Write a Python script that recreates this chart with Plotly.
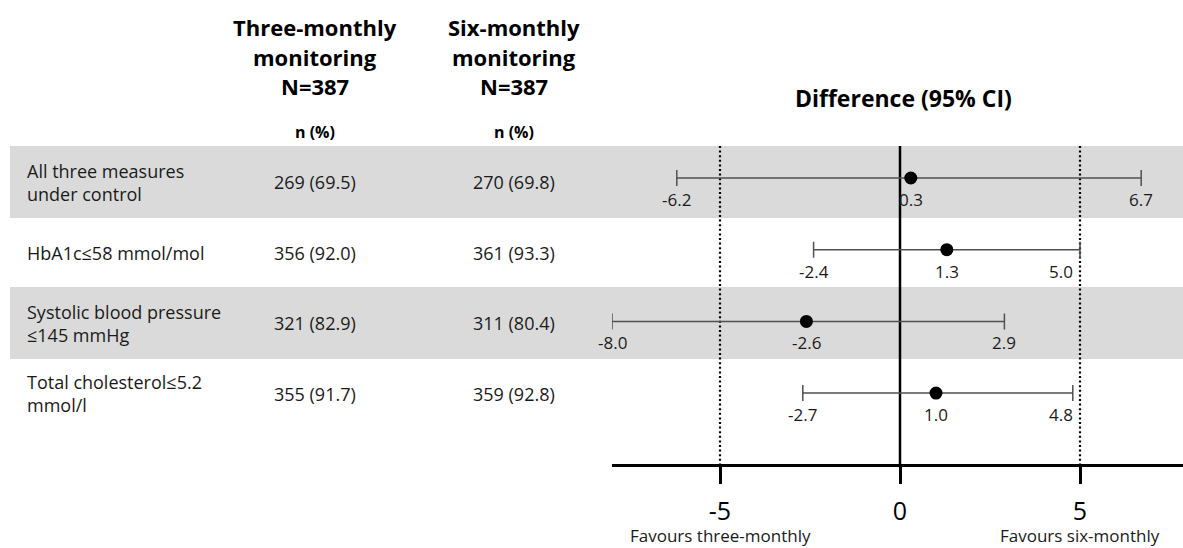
import plotly.graph_objects as go

# ---- data ----
outcomes = [
    "All three measures<br>under control",
    "HbA1c≤58 mmol/mol",
    "Systolic blood pressure<br>≤145 mmHg",
    "Total cholesterol≤5.2<br>mmol/l",
]
three_monthly = ["269 (69.5)", "356 (92.0)", "321 (82.9)", "355 (91.7)"]
six_monthly = ["270 (69.8)", "361 (93.3)", "311 (80.4)", "359 (92.8)"]
diff_est = [0.3, 1.3, -2.6, 1.0]
diff_low = [-6.2, -2.4, -8.0, -2.7]
diff_high = [6.7, 5.0, 2.9, 4.8]
tick_vals = [-5, 0, 5]
margin_lim = 5  # non-inferiority margins drawn at +/- this value

# ---- layout constants (pixels) ----
W, H = 1183, 548
FONT = "Open Sans"
TABLE_Y0, TABLE_DY = 182, 70.5      # table row centres
PLOT_Y0, PLOT_DY = 178, 71.7        # forest row centres
AXIS_Y = 465
PLOT_TOP = 146
X_LEFT_PX = 612                     # left end of the difference axis
X_MIN = -8.0
PX_PER_UNIT = 36.0
X_MAX = X_MIN + (W - X_LEFT_PX) / PX_PER_UNIT
COL1_X, COL2_X = 315, 514
LABEL_X = 25

table_y = [TABLE_Y0 + i * TABLE_DY for i in range(len(outcomes))]
plot_y = [PLOT_Y0 + i * PLOT_DY for i in range(len(outcomes))]

fig = go.Figure()

fig.add_trace(go.Scatter(
    x=diff_est,
    y=plot_y,
    mode="markers",
    marker=dict(color="black", size=13),
    error_x=dict(
        type="data",
        symmetric=False,
        array=[h - e for h, e in zip(diff_high, diff_est)],
        arrayminus=[e - l for e, l in zip(diff_est, diff_low)],
        color="#505050",
        thickness=1.5,
        width=8,
    ),
    hoverinfo="skip",
    showlegend=False,
))

shapes = []
# shaded bands on alternate rows
for i, yc in enumerate(table_y):
    if i % 2 == 0:
        shapes.append(dict(type="rect", xref="paper", yref="y",
                           x0=10 / W, x1=1, y0=yc - 36, y1=yc + 36,
                           fillcolor="#dadada", line=dict(width=0), layer="below"))
# line of no difference
shapes.append(dict(type="line", xref="x", yref="y", x0=0, x1=0,
                   y0=PLOT_TOP, y1=AXIS_Y, line=dict(color="black", width=2.5),
                   layer="below"))
# margins
for m in (-margin_lim, margin_lim):
    shapes.append(dict(type="line", xref="x", yref="y", x0=m, x1=m,
                       y0=PLOT_TOP, y1=AXIS_Y,
                       line=dict(color="black", width=2.2, dash="2px,2.6px"),
                       layer="below"))

annotations = []


def txt(x, y, s, size, bold=False, xref="paper", xanchor="center", color="#1a1a1a",
        xshift=0, align="center"):
    if bold:
        s = "<b>" + s + "</b>"
    annotations.append(dict(
        x=x / W if xref == "paper" else x, y=y, xref=xref, yref="y", text=s,
        showarrow=False, xanchor=xanchor, yanchor="middle", align=align,
        xshift=xshift, font=dict(family=FONT, size=size, color=color)))


# column headers
for cx, lines in ((COL1_X, ["Three-monthly", "monitoring", "N=387"]),
                  (COL2_X, ["Six-monthly", "monitoring", "N=387"])):
    for j, line in enumerate(lines):
        txt(cx, 27 + j * 29.5, line, 22, bold=True, color="black")
    txt(cx, 132, "n (%)", 16, bold=True, color="black")

txt(903, 98, "Difference (95% CI)", 23, bold=True, color="black")

# table body
for i, yc in enumerate(table_y):
    txt(LABEL_X, yc, outcomes[i], 18, xanchor="left", align="left")
    txt(COL1_X, yc, three_monthly[i], 18)
    txt(COL2_X, yc, six_monthly[i], 18)

# value labels under each interval
for i, yp in enumerate(plot_y):
    ly = yp + 21.5
    for v in (diff_low[i], diff_est[i], diff_high[i]):
        s = f"{v:.1f}"
        if abs(v - margin_lim) < 0.5:
            # keep the label clear of the dotted margin line
            txt(margin_lim, ly, s, 17, xref="x", xanchor="right", xshift=-5)
        else:
            txt(v, ly, s, 17, xref="x")

txt(-margin_lim, 535, "Favours three-monthly", 17, xref="x")
txt(margin_lim, 535, "Favours six-monthly", 17, xref="x")

fig.update_layout(
    width=W, height=H,
    margin=dict(l=0, r=0, t=0, b=0),
    paper_bgcolor="white", plot_bgcolor="white",
    shapes=shapes, annotations=annotations,
    xaxis=dict(
        domain=[X_LEFT_PX / W, 1], range=[X_MIN, X_MAX],
        anchor="free", position=1 - AXIS_Y / H,
        showline=True, linecolor="black", linewidth=2.5,
        ticks="outside", ticklen=17, tickwidth=2.5, tickcolor="black",
        tickvals=tick_vals, ticktext=[str(t) for t in tick_vals],
        tickfont=dict(family=FONT, size=25, color="black"),
        ticklabelstandoff=6,
        showgrid=False, zeroline=False, fixedrange=True,
    ),
    yaxis=dict(domain=[0, 1], range=[H, 0], visible=False, fixedrange=True),
)

fig.write_html("out.html")
